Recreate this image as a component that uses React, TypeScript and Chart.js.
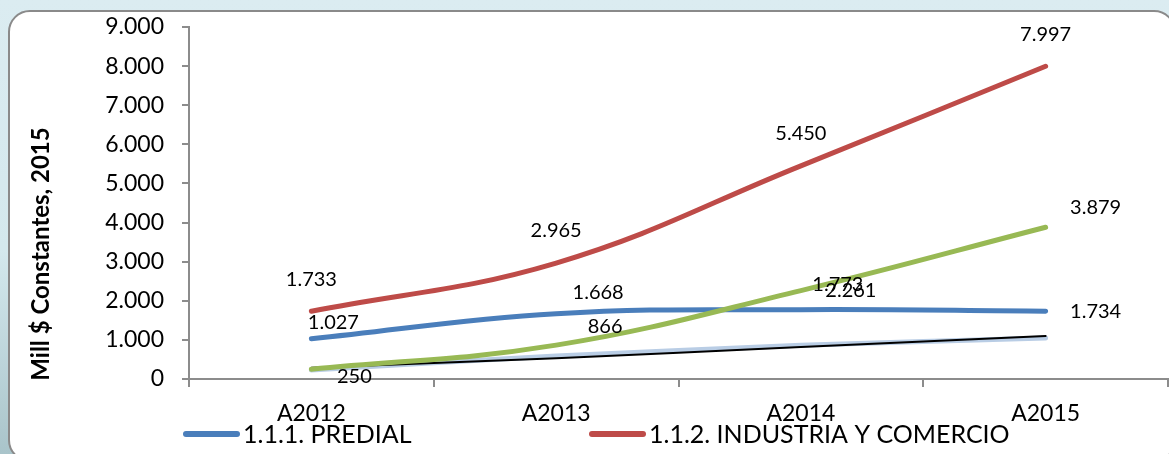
import React, { useEffect, useRef } from 'react';
import { Chart, registerables } from 'chart.js';

Chart.register(...registerables);

// ---------- data ----------
const categories = ['A2012', 'A2013', 'A2014', 'A2015'];
const predial = [1027, 1668, 1773, 1734];
const industria = [1733, 2965, 5450, 7997];
const serie3 = [250, 866, 2261, 3879];
const serie4 = [230, 590, 860, 1050];
const serie5 = [290, 530, 820, 1100];
const yMin = 0;
const yMax = 9000;
const yStep = 1000;
const yTitle = 'Mill $ Constantes, 2015';
const seriesNames = ['1.1.1. PREDIAL', '1.1.2. INDUSTRIA Y COMERCIO', '1.1.3.', '1.1.4.', '1.1.5.'];

// ---------- styling (positions of value labels relative to their point) ----------
const labelOffsetsPredial = [[22, -16], [42, -21], [37, -25], [50, 0]];
const labelOffsetsIndustria = [[0, -32], [0, -32], [0, -32], [0, -32]];
const labelOffsetsSerie3 = [[43, 7], [49, -19], [50, 0], [50, -20]];

const FONT = 'Lato, "Noto Sans", sans-serif';

const fmt = (v: number) => String(Math.round(v)).replace(/\B(?=(\d{3})+(?!\d))/g, '.');

const valueLabels = {
  id: 'valueLabels',
  afterDatasetsDraw(chart: any) {
    const ctx = chart.ctx;
    ctx.save();
    ctx.font = `20px ${FONT}`;
    ctx.fillStyle = '#000';
    ctx.textAlign = 'center';
    ctx.textBaseline = 'middle';
    chart.data.datasets.forEach((ds: any, di: number) => {
      if (!ds.labelOffsets) return;
      const meta = chart.getDatasetMeta(di);
      meta.data.forEach((pt: any, i: number) => {
        const off = ds.labelOffsets[i];
        ctx.fillText(fmt(ds.data[i]), pt.x + off[0], pt.y + off[1]);
      });
    });
    ctx.restore();
  },
};

const extras = {
  id: 'extras',
  afterDraw(chart: any) {
    const ctx = chart.ctx;
    ctx.save();
    // y axis title
    ctx.font = `bold 24px ${FONT}`;
    ctx.fillStyle = '#000';
    ctx.textAlign = 'center';
    ctx.textBaseline = 'middle';
    ctx.translate(41, 254);
    ctx.rotate(-Math.PI / 2);
    ctx.fillText(yTitle, 0, 0);
    ctx.restore();

    // legend (only entries flagged)
    ctx.save();
    ctx.font = `25px ${FONT}`;
    ctx.textBaseline = 'middle';
    ctx.textAlign = 'left';
    let x = 184;
    const y = 434;
    chart.data.datasets.forEach((ds: any) => {
      if (!ds.inLegend) return;
      ctx.strokeStyle = ds.borderColor;
      ctx.lineWidth = 6;
      ctx.lineCap = 'round';
      ctx.beginPath();
      ctx.moveTo(x + 2, y);
      ctx.lineTo(x + 53, y);
      ctx.stroke();
      ctx.fillStyle = '#000';
      ctx.fillText(ds.label, x + 59, y + 1);
      x += 406;
    });
    ctx.restore();
  },
};

export default function App() {
  const ref = useRef<HTMLCanvasElement>(null);

  useEffect(() => {
    if (!ref.current) return;
    const base = {
      pointRadius: 0,
      borderWidth: 5,
      tension: 0.4,
      borderCapStyle: 'round',
      fill: false,
    };
    const chart = new Chart(ref.current, {
      type: 'line',
      data: {
        labels: categories,
        datasets: [
          { ...base, label: seriesNames[0], data: predial, borderColor: '#4a7ebb', order: 3, inLegend: true, labelOffsets: labelOffsetsPredial } as any,
          { ...base, label: seriesNames[1], data: industria, borderColor: '#be4b48', order: 2, inLegend: true, labelOffsets: labelOffsetsIndustria } as any,
          { ...base, label: seriesNames[2], data: serie3, borderColor: '#98b954', order: 1, labelOffsets: labelOffsetsSerie3 } as any,
          { ...base, label: seriesNames[3], data: serie4, borderColor: '#b9cde5', order: 5, tension: 0.2 } as any,
          { ...base, label: seriesNames[4], data: serie5, borderColor: '#000000', borderWidth: 2, order: 4, tension: 0.2 } as any,
        ],
      },
      options: {
        responsive: false,
        animation: false,
        devicePixelRatio: 1,
        layout: { padding: { top: 27, right: 1, left: 0, bottom: 0 } },
        plugins: { legend: { display: false }, tooltip: { enabled: false } },
        scales: {
          x: {
            type: 'category',
            offset: true,
            grid: { display: true, offset: true, drawOnChartArea: false, tickLength: 8, color: '#8c8c8c', lineWidth: 2 },
            border: { display: true, color: '#8c8c8c', width: 2 },
            ticks: { color: '#000', font: { family: FONT, size: 23 }, padding: 13, maxRotation: 0 },
            afterFit(scale: any) { scale.height = 75; scale.paddingLeft = 0; scale.paddingRight = 0; },
          },
          y: {
            min: yMin,
            max: yMax,
            grid: { display: true, drawOnChartArea: false, tickLength: 7, color: '#8c8c8c', lineWidth: 2 },
            border: { display: true, color: '#8c8c8c', width: 2 },
            ticks: { stepSize: yStep, color: '#000', font: { family: FONT, size: 23 }, padding: 18, callback: (v: any) => fmt(Number(v)) },
            afterFit(scale: any) { scale.width = 189; scale.paddingTop = 0; scale.paddingBottom = 0; },
          },
        },
      },
      plugins: [valueLabels, extras],
    } as any);
    return () => chart.destroy();
  }, []);

  return (
    <div style={{ position: 'fixed', left: 0, top: 0, width: 1169, height: 454, overflow: 'hidden',
      background: 'linear-gradient(to bottom, #dbecf1 0%, #d4e8ed 55%, #a9c4ca 100%)' }}>
      <div style={{ position: 'absolute', left: 8, top: 10, width: 1168, height: 452, background: '#fff',
        border: '2px solid #8a8a8a', borderRadius: 22, boxSizing: 'border-box' }} />
      <canvas ref={ref} width={1169} height={454} style={{ position: 'absolute', left: 0, top: 0, width: 1169, height: 454 }} />
    </div>
  );
}
